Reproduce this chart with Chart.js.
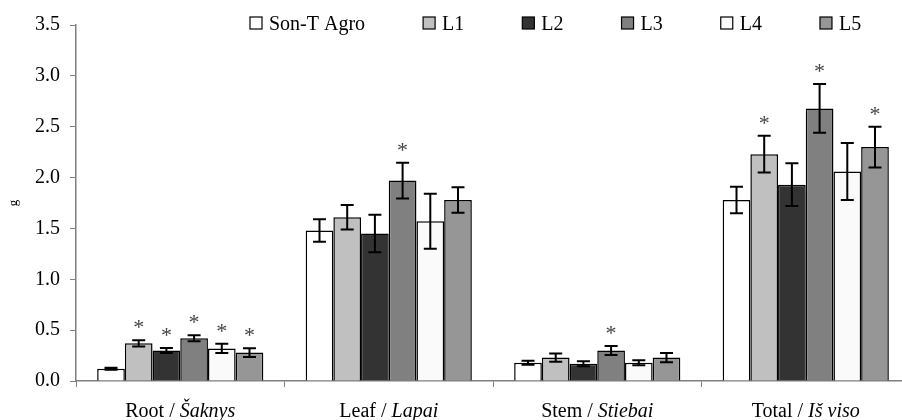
<!DOCTYPE html>
<html>
<head>
<meta charset="utf-8">
<script src="https://cdn.jsdelivr.net/npm/chart.js@4.4.1/dist/chart.umd.min.js"></script>
<style>
  html, body { margin: 0; padding: 0; background: #fff; overflow: hidden; }
  #wrap { width: 902px; height: 420px; overflow: hidden; }
</style>
</head>
<body>
<div id="wrap"><canvas id="chart" width="912" height="420"></canvas></div>
<script>
// categories (English / Lithuanian, the second part is drawn italic)
const catEn = ['Root', 'Leaf', 'Stem', 'Total'];
const catLt = ['Šaknys', 'Lapai', 'Stiebai', 'Iš viso'];

const seriesNames = ['Son-T Agro', 'L1', 'L2', 'L3', 'L4', 'L5'];

// means (g)
const sonT = [0.12, 1.48, 0.18, 1.78];
const l1 = [0.37, 1.61, 0.23, 2.23];
const l2 = [0.30, 1.45, 0.17, 1.93];
const l3 = [0.42, 1.97, 0.30, 2.68];
const l4 = [0.32, 1.57, 0.18, 2.06];
const l5 = [0.28, 1.78, 0.23, 2.30];

// error bars (+/-)
const sonTErr = [0.01, 0.11, 0.02, 0.13];
const l1Err = [0.03, 0.12, 0.04, 0.18];
const l2Err = [0.025, 0.185, 0.025, 0.21];
const l3Err = [0.03, 0.175, 0.045, 0.24];
const l4Err = [0.045, 0.27, 0.025, 0.28];
const l5Err = [0.043, 0.125, 0.045, 0.20];

// significance stars
const sonTSig = [0, 0, 0, 0];
const l1Sig = [1, 0, 0, 1];
const l2Sig = [1, 0, 0, 0];
const l3Sig = [1, 1, 1, 1];
const l4Sig = [1, 0, 0, 0];
const l5Sig = [1, 0, 0, 1];

const yTicks = [0, 0.5, 1.0, 1.5, 2.0, 2.5, 3.0, 3.5];

const colors = ['#ffffff', '#c0c0c0', '#333333', '#808080', '#fafafa', '#969696'];
const values = [sonT, l1, l2, l3, l4, l5];
const errors = [sonTErr, l1Err, l2Err, l3Err, l4Err, l5Err];
const sigs = [sonTSig, l1Sig, l2Sig, l3Sig, l4Sig, l5Sig];

const FONT = "'Liberation Serif', 'Times New Roman', serif";
const AXIS = '#7f7f7f';

const errorBars = {
  id: 'errorBars',
  afterDatasetsDraw(chart) {
    const ctx = chart.ctx;
    const y = chart.scales.y;
    ctx.save();
    chart.data.datasets.forEach((ds, i) => {
      const meta = chart.getDatasetMeta(i);
      meta.data.forEach((bar, j) => {
        const v = ds.data[j], e = errors[i][j];
        const top = y.getPixelForValue(v + e);
        const bot = y.getPixelForValue(v - e);
        ctx.strokeStyle = '#000';
        ctx.lineWidth = 2;
        ctx.beginPath();
        ctx.moveTo(bar.x, top); ctx.lineTo(bar.x, bot);
        ctx.moveTo(bar.x - 6.5, top); ctx.lineTo(bar.x + 6.5, top);
        ctx.moveTo(bar.x - 6.5, bot); ctx.lineTo(bar.x + 6.5, bot);
        ctx.stroke();
        if (sigs[i][j]) {
          ctx.fillStyle = '#444';
          ctx.font = '22px ' + FONT;
          ctx.textAlign = 'center';
          ctx.textBaseline = 'alphabetic';
          ctx.fillText('*', bar.x, top - 6);
        }
      });
    });
    ctx.restore();
  }
};

const catLabels = {
  id: 'catLabels',
  afterDraw(chart) {
    const ctx = chart.ctx;
    const x = chart.scales.x;
    const base = chart.chartArea.bottom + 36;
    ctx.save();
    ctx.fillStyle = '#000';
    ctx.textBaseline = 'alphabetic';
    ctx.textAlign = 'left';
    catEn.forEach((en, i) => {
      const a = en + ' / ';
      ctx.font = '20px ' + FONT;
      const wa = ctx.measureText(a).width;
      ctx.font = 'italic 20px ' + FONT;
      const wb = ctx.measureText(catLt[i]).width;
      const cx = x.getPixelForValue(i);
      const sx = cx - (wa + wb) / 2;
      ctx.font = '20px ' + FONT;
      ctx.fillText(a, sx, base);
      ctx.font = 'italic 20px ' + FONT;
      ctx.fillText(catLt[i], sx + wa, base);
    });
    ctx.restore();
  }
};

const topLegend = {
  id: 'topLegend',
  afterDraw(chart) {
    const ctx = chart.ctx;
    ctx.save();
    ctx.font = '20px ' + FONT;
    ctx.textBaseline = 'alphabetic';
    ctx.textAlign = 'left';
    let x = 250;
    seriesNames.forEach((name, i) => {
      ctx.fillStyle = colors[i];
      ctx.fillRect(x, 17, 12, 12);
      ctx.strokeStyle = '#000';
      ctx.lineWidth = 1.2;
      ctx.strokeRect(x, 17, 12, 12);
      ctx.fillStyle = '#000';
      ctx.fillText(name, x + 19, 30);
      x += 19 + ctx.measureText(name).width + 58;
    });
    ctx.restore();
  }
};

new Chart(document.getElementById('chart'), {
  type: 'bar',
  data: {
    labels: catEn.map((e, i) => e + ' / ' + catLt[i]),
    datasets: seriesNames.map((n, i) => ({
      label: n,
      data: values[i],
      backgroundColor: colors[i],
      borderColor: '#000',
      borderWidth: 1.5,
      barPercentage: 1.0,
      categoryPercentage: 0.797
    }))
  },
  options: {
    responsive: false,
    animation: false,
    layout: { padding: { top: 25, right: 2, left: 0, bottom: 0 } },
    plugins: {
      legend: { display: false },
      tooltip: { enabled: false }
    },
    scales: {
      x: {
        offset: true,
        grid: { offset: true, drawOnChartArea: false, drawTicks: true, tickLength: 6, color: AXIS },
        border: { display: true, color: AXIS, width: 1.5 },
        ticks: { display: false },
        afterFit(s) { s.height = 39; }
      },
      y: {
        min: 0,
        max: 3.5,
        afterBuildTicks(s) { s.ticks = yTicks.map(v => ({ value: v })); },
        grid: { drawOnChartArea: false, drawTicks: true, tickLength: 6, color: AXIS },
        border: { display: true, color: AXIS, width: 1.5 },
        ticks: {
          color: '#000',
          padding: 10,
          font: { family: FONT, size: 20 },
          callback: v => Number(v).toFixed(1)
        },
        title: {
          display: true,
          text: 'g',
          color: '#000',
          font: { family: FONT, size: 13 },
          padding: { top: 6, bottom: 0 }
        },
        afterFit(s) { s.width = 76; }
      }
    }
  },
  plugins: [errorBars, catLabels, topLegend]
});
</script>
</body>
</html>
